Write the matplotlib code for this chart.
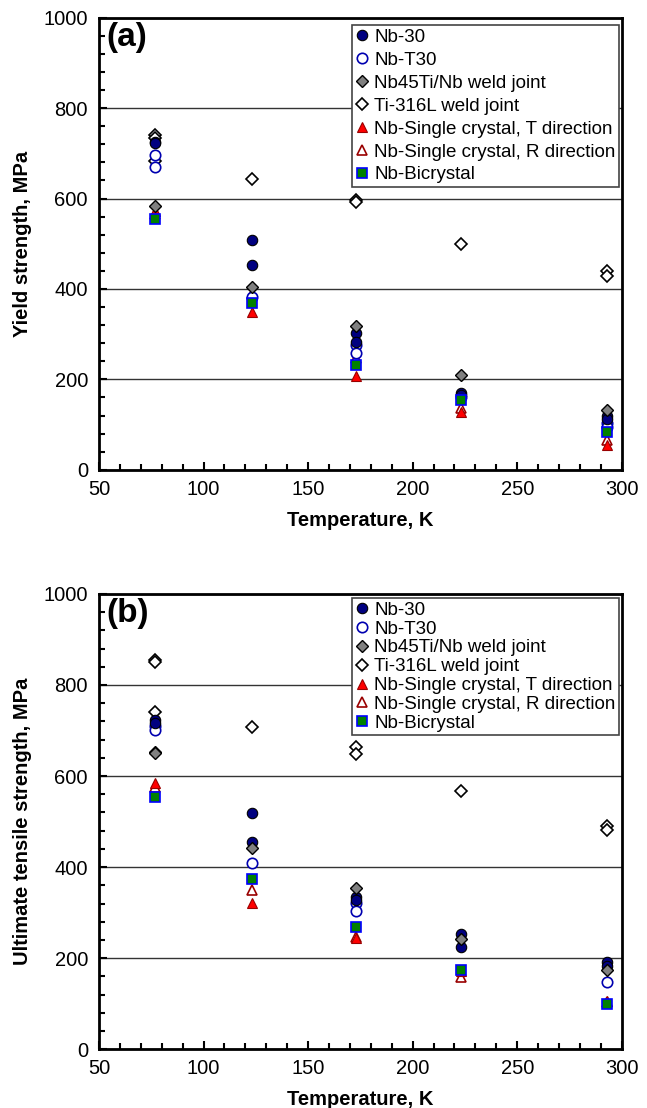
import matplotlib
matplotlib.use("Agg")
import matplotlib.pyplot as plt
from matplotlib.ticker import MultipleLocator

plt.rcParams['font.family'] = ['Liberation Sans', 'DejaVu Sans']

labels = ["Nb-30", "Nb-T30", "Nb45Ti/Nb weld joint", "Ti-316L weld joint",
          "Nb-Single crystal, T direction", "Nb-Single crystal, R direction", "Nb-Bicrystal"]

# Panel (a): yield strength
a_nb30_T = [77, 77, 123, 123, 173, 173, 223, 223, 293, 293]
a_nb30_Y = [725, 722, 508, 452, 302, 283, 170, 165, 120, 112]
a_nbt30_T = [77, 77, 123, 173, 173, 223, 293, 293]
a_nbt30_Y = [697, 670, 382, 276, 259, 160, 104, 95]
a_nb45_T = [77, 123, 173, 223, 293]
a_nb45_Y = [583, 405, 318, 209, 132]
a_ti_T = [77, 77, 77, 123, 173, 173, 223, 293, 293]
a_ti_Y = [741, 735, 682, 644, 597, 593, 500, 440, 428]
a_sct_T = [77, 123, 173, 223, 293]
a_sct_Y = [572, 350, 207, 128, 55]
a_scr_T = [77, 123, 173, 223, 293]
a_scr_Y = [565, 388, 247, 136, 65]
a_bi_T = [77, 123, 173, 223, 293]
a_bi_Y = [555, 368, 231, 154, 84]

# Panel (b): ultimate tensile strength
b_nb30_T = [77, 77, 123, 123, 173, 173, 223, 223, 293, 293]
b_nb30_Y = [722, 716, 519, 455, 335, 328, 254, 225, 192, 183]
b_nbt30_T = [77, 77, 123, 173, 173, 293]
b_nbt30_Y = [710, 701, 408, 322, 303, 147]
b_nb45_T = [77, 77, 123, 173, 223, 293]
b_nb45_Y = [653, 650, 441, 354, 242, 174]
b_ti_T = [77, 77, 77, 123, 173, 173, 223, 293, 293]
b_ti_Y = [855, 850, 741, 707, 664, 648, 568, 490, 481]
b_sct_T = [77, 123, 173, 223, 293]
b_sct_Y = [585, 322, 244, 172, 105]
b_scr_T = [77, 123, 173, 223, 293]
b_scr_Y = [575, 349, 247, 158, 103]
b_bi_T = [77, 123, 173, 223, 293]
b_bi_Y = [554, 374, 269, 175, 100]

styles = [
    dict(marker='o', mfc='#000080', mec='black', ms=7.5, mew=0.8),
    dict(marker='o', mfc='white', mec='#0000B0', ms=7.5, mew=1.2),
    dict(marker='D', mfc='#808080', mec='black', ms=6, mew=1.0),
    dict(marker='D', mfc='white', mec='black', ms=6, mew=1.2),
    dict(marker='^', mfc='#FF0000', mec='#990000', ms=7.5, mew=0.8),
    dict(marker='^', mfc='white', mec='#990000', ms=7.5, mew=1.2),
    dict(marker='s', mfc='#008000', mec='#0000FF', ms=7, mew=1.2),
]

fig = plt.figure(figsize=(6.47, 11.08), dpi=100)
ax_a = fig.add_axes([0.153, 0.576, 0.808, 0.408])
ax_b = fig.add_axes([0.153, 0.053, 0.808, 0.411])

panels = [
    (ax_a, [(a_nb30_T, a_nb30_Y), (a_nbt30_T, a_nbt30_Y), (a_nb45_T, a_nb45_Y), (a_ti_T, a_ti_Y),
            (a_sct_T, a_sct_Y), (a_scr_T, a_scr_Y), (a_bi_T, a_bi_Y)],
     "Yield strength, MPa", "(a)",
     dict(fontsize=13.5, labelspacing=0.31, bbox_to_anchor=(0.995, 0.984))),
    (ax_b, [(b_nb30_T, b_nb30_Y), (b_nbt30_T, b_nbt30_Y), (b_nb45_T, b_nb45_Y), (b_ti_T, b_ti_Y),
            (b_sct_T, b_sct_Y), (b_scr_T, b_scr_Y), (b_bi_T, b_bi_Y)],
     "Ultimate tensile strength, MPa", "(b)",
     dict(fontsize=13.5, labelspacing=0.09, bbox_to_anchor=(0.995, 0.991))),
]

zorders = [5, 4, 6, 3, 3.5, 3.2, 7]
for ax, series, ylabel, tag, legkw in panels:
    handles = []
    for (T, Y), st, lab, z in zip(series, styles, labels, zorders):
        h, = ax.plot(T, Y, linestyle='none', label=lab, zorder=z, **st)
        handles.append(h)
    ax.set_xlim(50, 300)
    ax.set_ylim(0, 1000)
    ax.xaxis.set_major_locator(MultipleLocator(50))
    ax.xaxis.set_minor_locator(MultipleLocator(10))
    ax.yaxis.set_major_locator(MultipleLocator(200))
    ax.yaxis.set_minor_locator(MultipleLocator(40))
    ax.tick_params(which='both', direction='in', labelsize=14.5, width=1.5)
    ax.tick_params(which='major', length=6)
    ax.tick_params(axis='y', which='major', pad=8)
    ax.tick_params(axis='x', which='major', pad=7)
    ax.tick_params(which='minor', length=4)
    ax.tick_params(axis='both', which='both', top=False, right=False)
    ax.grid(axis='y', which='major', color='#333333', linewidth=1.0)
    ax.set_axisbelow(True)
    for sp in ax.spines.values():
        sp.set_linewidth(2)
    ax.set_xlabel("Temperature, K", fontsize=14.5, fontweight='bold', labelpad=9)
    ax.set_ylabel(ylabel, fontsize=14.5, fontweight='bold', labelpad=8)
    ax.text(0.015, 0.99, tag, transform=ax.transAxes, fontsize=24, fontweight='bold',
            va='top', ha='left')
    leg = ax.legend(handles=handles, loc='upper right', frameon=True,
                    fancybox=False, edgecolor='#444444', framealpha=1,
                    handlelength=0.6, handletextpad=0.35, borderpad=0.2,
                    borderaxespad=0.0, numpoints=1, **legkw)
    leg.get_frame().set_linewidth(1.2)

fig.savefig("out.png", dpi=100)
